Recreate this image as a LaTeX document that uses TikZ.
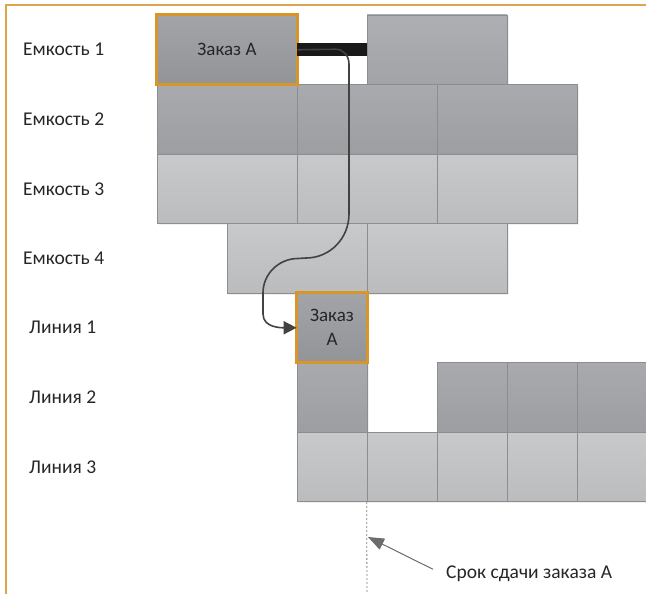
\documentclass[tikz,border=0pt]{standalone}
\usepackage{fontspec}
\setmainfont{Carlito}
\usetikzlibrary{shadows,arrows.meta}
\definecolor{framegold}{HTML}{DDA44E}
\definecolor{ordergold}{HTML}{D8952A}
\definecolor{celledge}{HTML}{8C8D90}
\definecolor{inktext}{HTML}{262626}
\definecolor{routeink}{HTML}{424242}
\definecolor{deeptop}{HTML}{A3A4A7}
\definecolor{deepbot}{HTML}{939497}
\definecolor{darktop}{HTML}{A9AAAD}
\definecolor{darkbot}{HTML}{9D9EA1}
\definecolor{midtop}{HTML}{AEAFB2}
\definecolor{midbot}{HTML}{A2A3A6}
\definecolor{lighttop}{HTML}{C8C9CB}
\definecolor{lightbot}{HTML}{BBBCBE}

\begin{document}
\begin{tikzpicture}[
    x=1pt, y=-1pt,
    cell/.style={draw=celledge, line width=0.7pt, minimum width=#1, minimum height=69.5pt,
      inner sep=0pt, drop shadow={shadow xshift=1.5pt, shadow yshift=-1.5pt, opacity=0.12}},
    deep/.style={top color=deeptop, bottom color=deepbot},
    dark/.style={top color=darktop, bottom color=darkbot},
    mid/.style={top color=midtop, bottom color=midbot},
    light/.style={top color=lighttop, bottom color=lightbot},
    order/.style={text=inktext, align=center, font=\fontsize{19}{23}\selectfont},
    lbl/.style={font=\fontsize{19.5}{22}\selectfont, text=inktext, anchor=west, inner sep=0pt},
    bar/.style={line width=13pt, draw=black!90},
    route/.style={draw=routeink, line width=1.6pt, -{Triangle[length=13pt, width=13pt]}},
    pointer/.style={draw=gray!85!black, line width=1pt, -{Triangle[length=16pt, width=12pt]}},
    dueline/.style={draw=gray, line width=0.8pt, dash pattern=on 2pt off 2pt},
  ]

  \useasboundingbox (0,0) rectangle (646,594);

  % ---- row labels
  \foreach \i/\y/\t/\x in {1/49.75/{Емкость 1}/23, 2/119.25/{Емкость 2}/23,
                           3/188.75/{Емкость 3}/23, 4/258.25/{Емкость 4}/23,
                           5/327.75/{Линия 1}/29, 6/397.25/{Линия 2}/29,
                           7/466.75/{Линия 3}/29} {
    \node[lbl] (lab\i) at (\x,\y) {\t};
  }

  % ---- tanks
  \node[cell=140pt, deep, order] (zakazA) at (227,49.75) {Заказ А};
  \node[cell=140pt, mid] (e1b) at (437,49.75) {};
  \foreach \n/\x in {a/227, b/367, c/507} {
    \node[cell=140pt, dark] (e2\n) at (\x,119.25) {};
  }
  \foreach \n/\x in {a/227, b/367, c/507} {
    \node[cell=140pt, light] (e3\n) at (\x,188.75) {};
  }
  \foreach \n/\x in {a/297, b/437} {
    \node[cell=140pt, light] (e4\n) at (\x,258.25) {};
  }

  % ---- lines
  \node[cell=70pt, deep, order] (zakazL) at (332,327.75) {Заказ\\[1pt]А};
  \foreach \n/\x in {a/332, b/472, c/542, d/612} {
    \node[cell=70pt, dark] (l2\n) at (\x,397.25) {};
  }
  \foreach \n/\x in {a/332, b/402, c/472, d/542, e/612} {
    \node[cell=70pt, light] (l3\n) at (\x,466.75) {};
  }
  % orange frames on top of neighbours
  \draw[ordergold, line width=3pt] (zakazA.south west) rectangle (zakazA.north east);
  \draw[ordergold, line width=3pt] (zakazL.south west) rectangle (zakazL.north east);

  % ---- waiting in tank 1
  \draw[bar] (zakazA.east |- e1b) -- (e1b.west);

  % ---- transfer of order A to line 1
  \draw[route] (zakazA.east |- e1b) -- (336,49.25) to[out=0, in=90] (349,64)
    -- (349,214) to[out=-90, in=0] (306,258) -- (298,258.5)
    to[out=180, in=90] (263,293) -- (263,314) to[out=-90, in=180] (zakazL.west);

  % ---- deadline
  \coordinate (dueEnd) at (367,594);
  \coordinate (dueTip) at (368,537);
  \draw[dueline] (l3b.south west) -- (dueEnd);
  \node[lbl, anchor=base west] (dueLbl) at (446,578) {Срок сдачи заказа А};
  \draw[pointer] ([xshift=-13pt, yshift=4pt]dueLbl.west) -- (dueTip);

  % ---- frame
  \draw[draw=framegold, line width=2pt] (5.5,594) -- (5.5,5.5) -- (646,5.5);

\end{tikzpicture}
\end{document}
